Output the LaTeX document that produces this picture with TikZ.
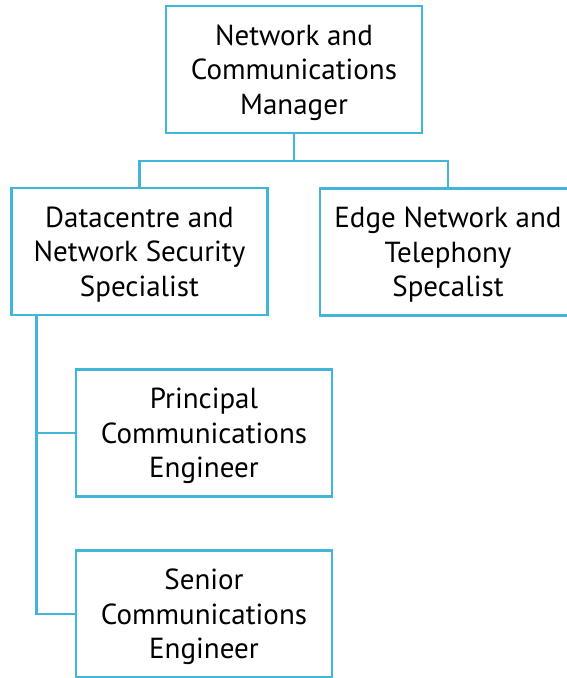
\documentclass[tikz,border=0pt]{standalone}
\usepackage{fontspec}
\setmainfont{PT Sans}
\definecolor{linkblue}{RGB}{66,181,219}
\begin{document}
\begin{tikzpicture}[x=1pt,y=-1pt,
  box/.style={draw=linkblue, line width=2.6pt, fill=white, minimum width=256pt, minimum height=127pt, inner sep=0pt},
  boxtext/.style={align=center, inner sep=0pt, yshift=-3pt, font=\fontsize{29}{34.5}\selectfont},
  link/.style={draw=linkblue, line width=2.6pt}]
\clip (0,0) rectangle (567,678);
\fill[white] (0,0) rectangle (567,678);
\node[box] (mgr) at (294,69.5) {};
\node[box] (dc) at (139.5,251.5) {};
\node[box] (edge) at (448,252) {};
\node[box] (pr) at (204,433) {};
\node[box] (sr) at (204,614) {};
\coordinate (bus) at (mgr.south |- 0,161);
\coordinate (trunk) at ([xshift=26pt]dc.south west);
\draw[link] (mgr.south) -- (bus);
\draw[link] (dc.north) |- (bus) -| (edge.north);
\draw[link] (trunk) |- (pr.west);
\draw[link] (trunk) |- (sr.west);
\node[boxtext] (mgrt) at (mgr.center) {Network and\\Communications\\Manager};
\node[boxtext] (dct) at (dc.center) {Datacentre and\\Network Security\\Specialist};
\node[boxtext] (edget) at (edge.center) {Edge Network and\\Telephony\\Specalist};
\node[boxtext] (prt) at (pr.center) {Principal\\Communications\\Engineer};
\node[boxtext] (srt) at (sr.center) {Senior\\Communications\\Engineer};
\end{tikzpicture}
\end{document}
